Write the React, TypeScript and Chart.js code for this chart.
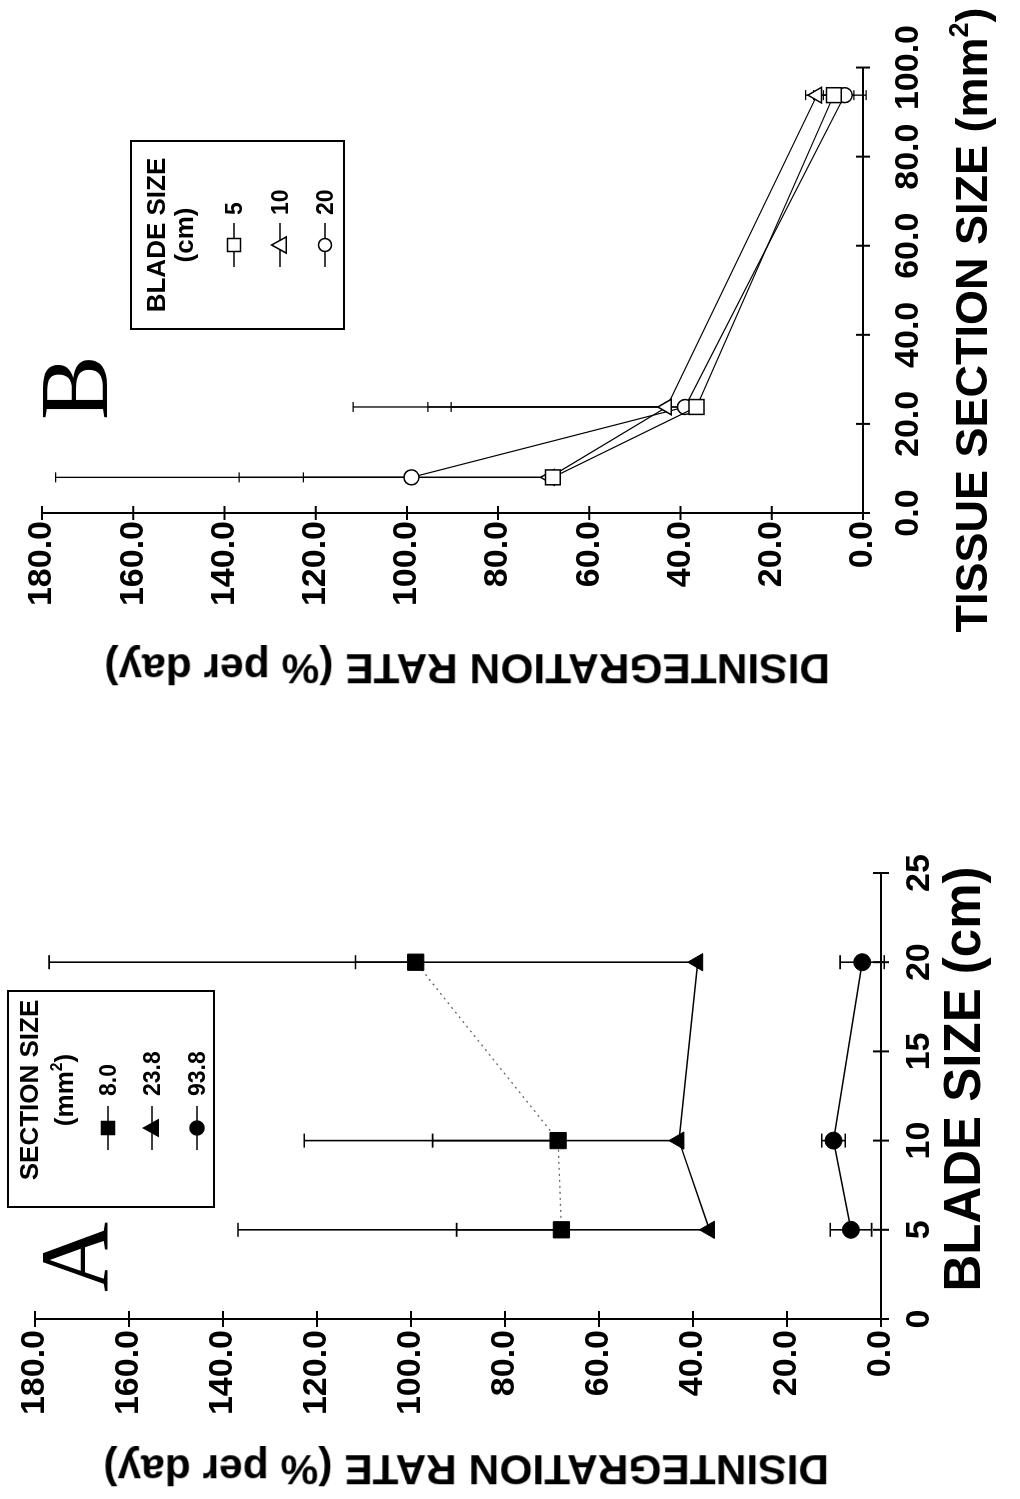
import React, { useEffect, useRef } from 'react';
import { Chart, registerables } from 'chart.js';

Chart.register(...registerables);

// ---- data ----
const bladeSizes = [5, 10, 20];
const sectionSizes = [8.0, 23.8, 93.8];
const sectionLabels = ['8.0', '23.8', '93.8'];
const bladeLabels = ['5', '10', '20'];

const rateSection8 = [68.0, 68.7, 99.0];
const errSection8 = [68.8, 54.0, 78.0];
const rateSection238 = [36.5, 43.0, 39.0];
const errSection238 = [53.8, 52.4, 72.8];
const rateSection938 = [6.4, 10.1, 4.0];
const errSection938 = [4.4, 2.5, 4.7];
const twoSidedBySection = [false, false, true];

const rateTicks = [0, 20, 40, 60, 80, 100, 120, 140, 160, 180];
const bladeTicks = [0, 5, 10, 15, 20, 25];
const tissueTicks = [0, 20, 40, 60, 80, 100];

const rateBySection = [rateSection8, rateSection238, rateSection938];
const errBySection = [errSection8, errSection238, errSection938];

const FONT = '"Liberation Sans", Arial, Helvetica, sans-serif';
const SERIF = '"Liberation Serif", "Times New Roman", serif';

const errorBarPlugin = {
  id: 'errorBars',
  beforeDatasetsDraw(chart: any, _a: any, opts: any) {
    const ctx = chart.ctx;
    const y = chart.scales.y;
    ctx.save();
    ctx.strokeStyle = '#000';
    ctx.lineWidth = opts.lineWidth || 1.5;
    chart.data.datasets.forEach((ds: any, di: number) => {
      const meta = chart.getDatasetMeta(di);
      ds.data.forEach((pt: any, i: number) => {
        const el = meta.data[i];
        if (!el) return;
        const px = el.x;
        const e = ds.errors[i];
        const both = ds.errBoth[i];
        const top = y.getPixelForValue(pt.y + e);
        const bot = both ? y.getPixelForValue(pt.y - e) : y.getPixelForValue(pt.y);
        const cap = opts.cap;
        ctx.beginPath();
        ctx.moveTo(px, top);
        ctx.lineTo(px, bot);
        ctx.moveTo(px - cap, top);
        ctx.lineTo(px + cap, top);
        if (both) {
          ctx.moveTo(px - cap, bot);
          ctx.lineTo(px + cap, bot);
        }
        ctx.stroke();
      });
    });
    ctx.restore();
  },
};

const crossTickPlugin = {
  id: 'crossTicks',
  afterDraw(chart: any, _a: any, opts: any) {
    const ctx = chart.ctx;
    const { x, y } = chart.scales;
    const area = chart.chartArea;
    const L = opts.len;
    ctx.save();
    ctx.strokeStyle = '#000';
    ctx.lineWidth = 2;
    ctx.beginPath();
    x.ticks.forEach((t: any) => {
      const px = x.getPixelForValue(t.value);
      ctx.moveTo(px, area.bottom - L);
      ctx.lineTo(px, area.bottom + L);
    });
    y.ticks.forEach((t: any) => {
      const py = y.getPixelForValue(t.value);
      ctx.moveTo(area.left - L, py);
      ctx.lineTo(area.left + L, py);
    });
    ctx.stroke();
    ctx.restore();
  },
};

function makeConfig(opts: {
  datasets: any[];
  xMax: number;
  xTicks: number[];
  xFmt: (v: number) => string;
  yWidth: number;
  xHeight: number;
  padTop: number;
  padRight: number;
  xPad: number;
  yPad: number;
  cap: number;
  tickLen: number;
  errWidth: number;
}): any {
  const tickFont = { family: FONT, size: 34, weight: 'bold' as const };
  return {
    type: 'line',
    data: { datasets: opts.datasets },
    plugins: [errorBarPlugin, crossTickPlugin],
    options: {
      responsive: false,
      animation: false,
      devicePixelRatio: 1,
      layout: { padding: { left: 0, right: opts.padRight, top: opts.padTop, bottom: 0 } },
      plugins: {
        legend: { display: false },
        tooltip: { enabled: false },
        errorBars: { cap: opts.cap, lineWidth: opts.errWidth },
        crossTicks: { len: opts.tickLen },
      },
      scales: {
        x: {
          type: 'linear',
          min: 0,
          max: opts.xMax,
          afterBuildTicks: (s: any) => {
            s.ticks = opts.xTicks.map((v) => ({ value: v }));
          },
          afterFit: (s: any) => {
            s.height = opts.xHeight;
          },
          grid: { display: true, drawOnChartArea: false, drawTicks: false },
          border: { display: true, color: '#000', width: 2 },
          ticks: {
            color: '#000',
            font: tickFont,
            padding: opts.xPad,
            autoSkip: false,
            maxRotation: 0,
            callback: (v: any) => opts.xFmt(Number(v)),
          },
        },
        y: {
          type: 'linear',
          min: 0,
          max: 180,
          afterBuildTicks: (s: any) => {
            s.ticks = rateTicks.map((v) => ({ value: v }));
          },
          afterFit: (s: any) => {
            s.width = opts.yWidth;
          },
          grid: { display: true, drawOnChartArea: false, drawTicks: false },
          border: { display: true, color: '#000', width: 2 },
          ticks: {
            color: '#000',
            font: tickFont,
            padding: opts.yPad,
            autoSkip: false,
            callback: (v: any) => Number(v).toFixed(1),
          },
        },
      },
    },
  };
}

function panelADatasets() {
  const styles = [
    { pointStyle: 'rect', pointRadius: 11.5, borderColor: '#666', borderDash: [2, 4], borderWidth: 1.3 },
    { pointStyle: 'triangle', pointRadius: 10, borderColor: '#000', borderDash: [], borderWidth: 1.5 },
    { pointStyle: 'circle', pointRadius: 8.5, borderColor: '#000', borderDash: [], borderWidth: 1.5 },
  ];
  return sectionSizes.map((_, s) => ({
    label: sectionLabels[s],
    data: bladeSizes.map((b, i) => ({ x: b, y: rateBySection[s][i] })),
    errors: errBySection[s],
    errBoth: bladeSizes.map(() => twoSidedBySection[s]),
    showLine: true,
    fill: false,
    tension: 0,
    clip: false,
    pointBackgroundColor: '#000',
    pointBorderColor: '#000',
    pointBorderWidth: 1,
    ...styles[s],
  }));
}

function panelBDatasets() {
  const styles = [
    { pointStyle: 'rect', pointRadius: 10.5 },
    { pointStyle: 'triangle', pointRadius: 9 },
    { pointStyle: 'circle', pointRadius: 7.5 },
  ];
  return bladeSizes.map((_, b) => ({
    label: bladeLabels[b],
    data: sectionSizes.map((sz, s) => ({ x: sz, y: rateBySection[s][b] })),
    errors: sectionSizes.map((_, s) => errBySection[s][b]),
    errBoth: sectionSizes.map((_, s) => twoSidedBySection[s]),
    showLine: true,
    fill: false,
    tension: 0,
    clip: false,
    borderColor: '#000',
    borderWidth: 1.2,
    pointBackgroundColor: '#fff',
    pointBorderColor: '#000',
    pointBorderWidth: 1.5,
    ...styles[b],
  }));
}

function Sym({ shape, filled, left, cy, size }: { shape: string; filled: boolean; left: number; cy: number; size: number }) {
  const w = 44;
  const h = 26;
  const c = w / 2;
  const m = h / 2;
  const fill = filled ? '#000' : '#fff';
  let mark: any;
  if (shape === 'rect') {
    mark = <rect x={c - size / 2} y={m - size / 2} width={size} height={size} fill={fill} stroke="#000" strokeWidth={1.5} />;
  } else if (shape === 'triangle') {
    mark = (
      <polygon
        points={`${c},${m - size * 0.6} ${c + size * 0.58},${m + size * 0.45} ${c - size * 0.58},${m + size * 0.45}`}
        fill={fill}
        stroke="#000"
        strokeWidth={1.5}
      />
    );
  } else {
    mark = <circle cx={c} cy={m} r={size / 2} fill={fill} stroke="#000" strokeWidth={1.5} />;
  }
  return (
    <svg width={w} height={h} style={{ position: 'absolute', left, top: cy - h / 2 }}>
      <line x1={0} y1={m} x2={w} y2={m} stroke="#000" strokeWidth={1.5} />
      {mark}
    </svg>
  );
}

function Txt({ children, left, cy, size, width, align, weight }: any) {
  const h = size * 1.4;
  return (
    <div
      style={{
        position: 'absolute',
        left,
        top: cy - h / 2,
        width,
        height: h,
        lineHeight: `${h}px`,
        fontFamily: FONT,
        fontWeight: weight || 'bold',
        fontSize: size,
        textAlign: align || 'left',
        whiteSpace: 'nowrap',
        color: '#000',
      }}
    >
      {children}
    </div>
  );
}

function RotTitle({ text, cx, cy, size, weight }: { text: string; cx: number; cy: number; size: number; weight: string }) {
  const w = 900;
  const h = size;
  return (
    <div
      style={{
        position: 'absolute',
        left: cx - w / 2,
        top: cy - h / 2,
        width: w,
        height: h,
        lineHeight: `${h}px`,
        textAlign: 'center',
        fontFamily: FONT,
        fontWeight: weight,
        fontSize: size,
        whiteSpace: 'nowrap',
        transform: 'rotate(-90deg)',
        transformOrigin: '50% 50%',
        color: '#000',
      }}
    >
      {text}
    </div>
  );
}

const sup = <sup style={{ fontSize: '0.6em', lineHeight: 0, verticalAlign: '0.7em' }}>2</sup>;

export default function App() {
  const refA = useRef<HTMLCanvasElement>(null);
  const refB = useRef<HTMLCanvasElement>(null);

  useEffect(() => {
    const a = new Chart(
      refA.current as any,
      makeConfig({
        datasets: panelADatasets(),
        xMax: 25,
        xTicks: bladeTicks,
        xFmt: (v) => String(Math.round(v)),
        yWidth: 180,
        xHeight: 1020 - 881,
        padTop: 35,
        padRight: 760 - 626,
        xPad: 18,
        yPad: 11,
        cap: 7,
        tickLen: 8,
        errWidth: 1.6,
      })
    );
    const b = new Chart(
      refB.current as any,
      makeConfig({
        datasets: panelBDatasets(),
        xMax: 100,
        xTicks: tissueTicks,
        xFmt: (v) => v.toFixed(1),
        yWidth: 226,
        xHeight: 1020 - 863,
        padTop: 42,
        padRight: 739 - 682,
        xPad: 25,
        yPad: 8,
        cap: 5,
        tickLen: 7,
        errWidth: 1.3,
      })
    );
    return () => {
      a.destroy();
      b.destroy();
    };
  }, []);

  return (
    <div
      style={{
        position: 'absolute',
        left: 0,
        top: 0,
        width: 1499,
        height: 1020,
        background: '#fff',
        transformOrigin: '0 0',
        transform: 'translate(0px, 1499px) rotate(-90deg)',
        overflow: 'hidden',
      }}
    >
      <canvas ref={refA} width={760} height={1020} style={{ position: 'absolute', left: 0, top: 0, width: 760, height: 1020 }} />
      <canvas ref={refB} width={739} height={1020} style={{ position: 'absolute', left: 760, top: 0, width: 739, height: 1020 }} />

      {/* Panel A overlays */}
      <div style={{ position: 'absolute', left: 207, top: 26, fontFamily: SERIF, fontSize: 97, lineHeight: '97px', color: '#000' }}>A</div>
      <div style={{ position: 'absolute', left: 291, top: 7, width: 218, height: 208, border: '2px solid #000', boxSizing: 'border-box', background: '#fff' }} />
      <Txt left={291} cy={29} size={26} width={236} align="center">SECTION SIZE</Txt>
      <Txt left={291} cy={64} size={26} width={236} align="center">(mm{sup})</Txt>
      <Sym shape="rect" filled left={349} cy={108} size={13} />
      <Sym shape="triangle" filled left={349} cy={152} size={14} />
      <Sym shape="circle" filled left={349} cy={197} size={14} />
      <Txt left={403} cy={108} size={23}>{sectionLabels[0]}</Txt>
      <Txt left={403} cy={152} size={23}>{sectionLabels[1]}</Txt>
      <Txt left={403} cy={197} size={23}>{sectionLabels[2]}</Txt>
      <RotTitle text="DISINTEGRATION RATE (% per day)" cx={30} cy={466} size={42.5} weight="bold" />
      <Txt left={20} cy={963} size={51} width={800} align="center">BLADE SIZE (cm)</Txt>

      {/* Panel B overlays */}
      <div style={{ position: 'absolute', left: 1079, top: 26, fontFamily: SERIF, fontSize: 97, lineHeight: '97px', color: '#000' }}>B</div>
      <div style={{ position: 'absolute', left: 1169, top: 130, width: 190, height: 215, border: '2px solid #000', boxSizing: 'border-box', background: '#fff' }} />
      <Txt left={1169} cy={156} size={26} width={190} align="center">BLADE SIZE</Txt>
      <Txt left={1169} cy={184} size={26} width={190} align="center">(cm)</Txt>
      <Sym shape="rect" filled={false} left={1232} cy={234} size={13} />
      <Sym shape="triangle" filled={false} left={1232} cy={280} size={14} />
      <Sym shape="circle" filled={false} left={1232} cy={325} size={13} />
      <Txt left={1284} cy={234} size={23}>{bladeLabels[0]}</Txt>
      <Txt left={1284} cy={280} size={23}>{bladeLabels[1]}</Txt>
      <Txt left={1284} cy={325} size={23}>{bladeLabels[2]}</Txt>
      <RotTitle text="DISINTEGRATION RATE (% per day)" cx={831} cy={467} size={42.5} weight="bold" />
      <Txt left={779} cy={971} size={45} width={800} align="center">TISSUE SECTION SIZE (mm{sup})</Txt>
    </div>
  );
}
